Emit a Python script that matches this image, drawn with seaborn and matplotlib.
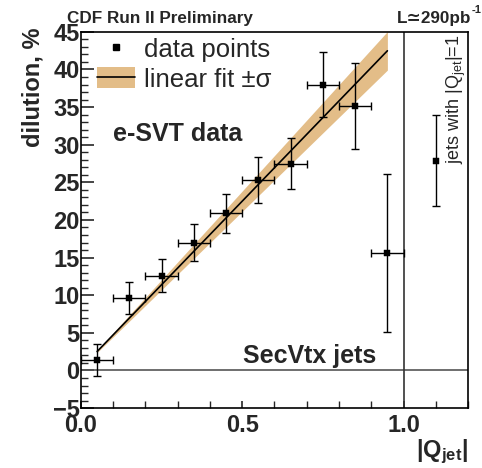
import numpy as np
import pandas as pd
import matplotlib
matplotlib.use("Agg")
import matplotlib.pyplot as plt
import seaborn as sns
from matplotlib.lines import Line2D
from matplotlib.patches import Patch
from matplotlib.ticker import MultipleLocator

# data
q_jet = [0.05, 0.15, 0.25, 0.35, 0.45, 0.55, 0.65, 0.75, 0.85, 0.95]
dilution = [1.4, 9.6, 12.6, 17.0, 20.9, 25.3, 27.5, 38.0, 35.1, 15.6]
dil_err = [2.1, 2.1, 2.2, 2.4, 2.6, 3.0, 3.4, 4.3, 5.7, 10.5]
q_err = [0.05] * 10
q1_x = [1.1]
q1_dil = [27.9]
q1_err = [6.1]
fit_intercept = 0.3
fit_slope = 44.4
fit_slope_err = 2.7
fit_range = [0.05, 0.95]

sns.set_theme(style="ticks")
plt.rcParams["font.family"] = ["Liberation Sans", "DejaVu Sans"]
plt.rcParams["mathtext.fontset"] = "custom"
plt.rcParams["mathtext.rm"] = "Liberation Sans"
plt.rcParams["mathtext.bf"] = "Liberation Sans:bold"
plt.rcParams["mathtext.it"] = "Liberation Sans:italic"

fig = plt.figure(figsize=(4.82, 4.68), dpi=100)
ax = fig.add_axes([0.168, 0.128, 0.803, 0.804])

xf = np.linspace(fit_range[0], fit_range[1], 50)
yf = fit_intercept + fit_slope * xf
ylo = fit_intercept + (fit_slope - fit_slope_err) * xf
yhi = fit_intercept + (fit_slope + fit_slope_err) * xf
band_color = "#E3BD88"
ax.fill_between(xf, ylo, yhi, color=band_color, lw=0, zorder=1)
sns.lineplot(x=xf, y=yf, ax=ax, color="black", lw=1.2, zorder=2)

ax.axhline(0, color="#555555", lw=1.2, zorder=1)
ax.axvline(1.0, color="#333333", lw=1.2, zorder=1)

ax.errorbar(q_jet, dilution, yerr=dil_err, xerr=q_err, fmt="none",
            ecolor="black", elinewidth=1.0, capsize=3, capthick=1.0, zorder=3)
ax.errorbar(q1_x, q1_dil, yerr=q1_err, fmt="none",
            ecolor="black", elinewidth=1.0, capsize=3, capthick=1.0, zorder=3)
df = pd.DataFrame({"x": q_jet + q1_x, "y": dilution + q1_dil})
sns.scatterplot(data=df, x="x", y="y", ax=ax, marker="s", s=16,
                color="black", edgecolor="black", zorder=4)

ax.set_xlim(0, 1.2)
ax.set_ylim(-5, 45)
ax.set_xticks([0.0, 0.5, 1.0])
ax.set_xticklabels(["0.0", "0.5", "1.0"])
ax.xaxis.set_minor_locator(MultipleLocator(0.1))
ax.set_yticks(np.arange(-5, 46, 5))
ax.yaxis.set_minor_locator(MultipleLocator(1))
ax.tick_params(axis="both", which="major", direction="in", length=9, width=1.2,
               labelsize=17, pad=1)
ax.tick_params(axis="both", which="minor", direction="in", length=5, width=1.0)
ax.tick_params(axis="x", which="major", length=5, pad=4)
for lab in ax.get_xticklabels() + ax.get_yticklabels():
    lab.set_fontweight("bold")
for s in ax.spines.values():
    s.set_color("black")
    s.set_linewidth(1.2)

ax.set_xlabel("")
ax.set_ylabel("dilution, %", fontsize=17, fontweight="bold")
ax.yaxis.set_label_coords(-0.093, 0.854)

handles = [Line2D([], [], marker="s", ls="none", color="black", markersize=4),
           (Patch(facecolor=band_color, edgecolor="none"),
            Line2D([], [], color="black", lw=1.2))]
ax.legend(handles, ["data points", "linear fit \u00b1\u03c3"], loc="upper left",
          frameon=False, fontsize=18.5, handlelength=1.5, handleheight=0.9,
          borderaxespad=0, borderpad=0, labelspacing=0.2, handletextpad=0.32,
          bbox_to_anchor=(0.041, 0.985))

ax.text(0.1, 31.4, "e-SVT data", fontsize=18, fontweight="bold", va="center")
ax.text(0.915, 1.9, "SecVtx jets", fontsize=18, fontweight="bold", va="center", ha="right")
ax.text(1.165, 36.0, "jets with |Q$_{\\mathrm{jet}}$|=1", fontsize=13, rotation=90,
        ha="center", va="center")

fig.text(67 / 482, 1 - 18 / 468, "CDF Run II Preliminary", fontsize=12.3,
         fontweight="bold", va="center", ha="left")
fig.text(471 / 482, 1 - 18 / 468, "L\u2243290pb", fontsize=12.3,
         fontweight="bold", va="center", ha="right")
fig.text(471.5 / 482, 1 - 10 / 468, "-1", fontsize=8,
         fontweight="bold", va="center", ha="left")
fig.text(442 / 482, 1 - 452 / 468, "|Q$_{\\mathbf{jet}}$|", fontsize=17,
         fontweight="bold", va="center", ha="center")

fig.savefig("out.png", dpi=100)
